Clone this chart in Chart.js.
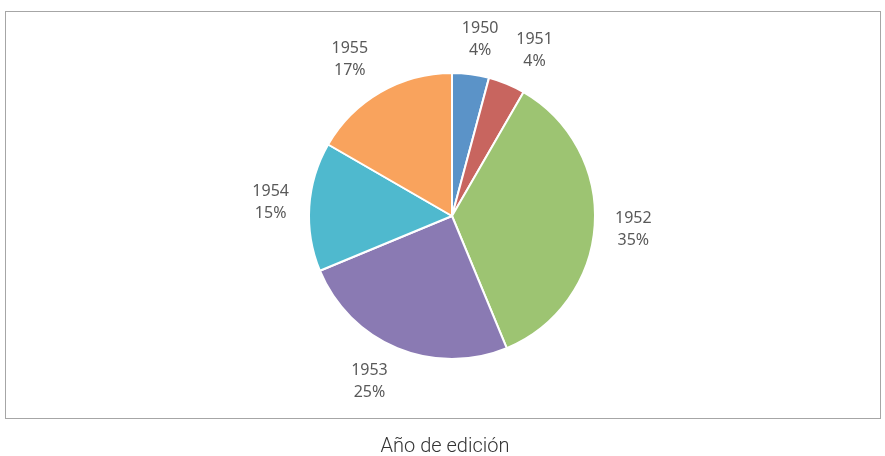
<!DOCTYPE html>
<html><head><meta charset="utf-8">
<script src="https://cdn.jsdelivr.net/npm/chart.js@4/dist/chart.umd.min.js"></script>
<style>html,body{margin:0;padding:0;background:#fff}#wrap{position:relative;width:885px;height:456px}</style>
</head><body><div id="wrap"><canvas id="c" width="885" height="456"></canvas></div>
<script>
const categories = ['1950','1951','1952','1953','1954','1955'];
const counts = [2, 2, 17, 12, 7, 8];
const percentLabels = ['4%','4%','35%','25%','15%','17%'];
const colors = ['#5B93C8','#C8655F','#9DC472','#8A7AB3','#4FB9CE','#F9A35D'];
const caption = 'Año de edición';

const decor = {
  id:'decor',
  beforeDraw(chart){
    const ctx = chart.ctx;
    ctx.save();
    ctx.fillStyle='#fff';ctx.fillRect(0,0,chart.width,chart.height);
    ctx.strokeStyle='#a6a6a6';ctx.lineWidth=1;
    ctx.strokeRect(5.5,11.5,875,407);
    ctx.restore();
  },
  afterDraw(chart){
    const ctx = chart.ctx;
    const meta = chart.getDatasetMeta(0);
    ctx.save();
    ctx.font='16px "Noto Sans"';
    ctx.fillStyle='#595959';
    ctx.textAlign='center';ctx.textBaseline='middle';
    const clamp=v=>Math.max(-1,Math.min(1,v));
    meta.data.forEach((arc,i)=>{
      const mid=(arc.startAngle+arc.endAngle)/2;
      const ux=Math.cos(mid), uy=Math.sin(mid);
      const r=arc.outerRadius+16;
      const w=Math.max(ctx.measureText(categories[i]).width, ctx.measureText(percentLabels[i]).width);
      const cx=arc.x+ux*r+clamp(ux*2.5)*w*0.62;
      const cy=arc.y+uy*r+clamp(uy*2.5)*19;
      ctx.fillText(categories[i],cx,cy-11);
      ctx.fillText(percentLabels[i],cx,cy+11);
    });
    ctx.font='300 20px Roboto';
    ctx.fillStyle='#333';
    ctx.fillText(caption,445,447);
    ctx.restore();
  }
};

new Chart(document.getElementById('c'),{
  type:'pie',
  data:{labels:categories,datasets:[{data:counts,backgroundColor:colors,borderColor:'#fff',borderWidth:2}]},
  options:{
    responsive:false,animation:false,
    layout:{padding:{top:72,bottom:96,left:100,right:81}},
    plugins:{legend:{display:false},tooltip:{enabled:false}}
  },
  plugins:[decor]
});
</script></body></html>
